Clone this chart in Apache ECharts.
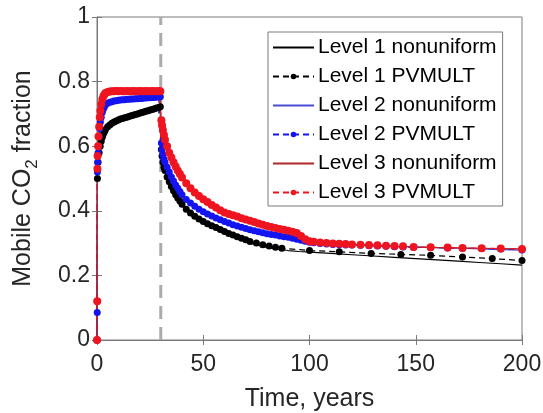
<!DOCTYPE html>
<html>
<head>
<meta charset="utf-8">
<script src="https://cdn.jsdelivr.net/npm/echarts@6/dist/echarts.min.js"></script>
<style>
html,body{margin:0;padding:0;background:#fff;}
#chart{width:543px;height:413px;}
</style>
</head>
<body>
<div id="chart"></div>
<script>
// ---- data ----
const seriesNames = ['Level 1 nonuniform','Level 1 PVMULT','Level 2 nonuniform','Level 2 PVMULT','Level 3 nonuniform','Level 3 PVMULT'];
const xTicks = [0, 50, 100, 150, 200];
const yTicks = [0, 0.2, 0.4, 0.6, 0.8, 1];
const injectionEnd = [30];

// time (years) of the solid "nonuniform" curves
const tLine = [0, 0.2, 0.5, 1, 2, 3, 4, 5, 7, 10, 15, 20, 25, 29.8, 30, 30.5, 31, 32, 34, 36, 38, 40, 44, 48, 52, 56, 60, 65, 70, 75, 80, 85, 90, 95, 100, 110, 120, 130, 140, 150, 160, 170, 180, 190, 200];
const level1Nonuniform = [0, 0.5, 0.55, 0.58, 0.615, 0.638, 0.652, 0.66, 0.671, 0.681, 0.692, 0.702, 0.712, 0.722, 0.6, 0.565, 0.545, 0.52, 0.485, 0.457, 0.435, 0.415, 0.388, 0.368, 0.354, 0.342, 0.33, 0.316, 0.304, 0.294, 0.287, 0.281, 0.277, 0.274, 0.272, 0.268, 0.264, 0.26, 0.256, 0.252, 0.248, 0.244, 0.24, 0.236, 0.232];
const level2Nonuniform = [0, 0.52, 0.58, 0.63, 0.69, 0.715, 0.728, 0.733, 0.738, 0.742, 0.745, 0.748, 0.75, 0.753, 0.63, 0.59, 0.575, 0.55, 0.52, 0.492, 0.47, 0.45, 0.424, 0.405, 0.39, 0.378, 0.367, 0.355, 0.345, 0.336, 0.329, 0.323, 0.318, 0.311, 0.303, 0.296, 0.294, 0.292, 0.29, 0.288, 0.286, 0.284, 0.282, 0.28, 0.278];
const level3Nonuniform = [0, 0.53, 0.6, 0.66, 0.73, 0.755, 0.765, 0.768, 0.77, 0.77, 0.77, 0.77, 0.77, 0.77, 0.7, 0.668, 0.65, 0.62, 0.58, 0.55, 0.525, 0.503, 0.47, 0.446, 0.427, 0.41, 0.395, 0.382, 0.373, 0.365, 0.353, 0.344, 0.338, 0.328, 0.306, 0.3, 0.296, 0.293, 0.29, 0.288, 0.286, 0.285, 0.284, 0.283, 0.282];

// time (years) of the Level 1 PVMULT markers
const tPV1 = [0, 0.2, 0.5, 1, 1.5, 2, 2.5, 3, 3.5, 4,
  5, 6, 7, 8, 9, 10, 11, 12, 13, 14, 15, 16, 17, 18, 19, 20, 21, 22, 23, 24, 25, 26, 27, 28, 29,
  29.8, 30.3, 30.6, 31, 31.5, 32, 33, 34, 35, 36, 37, 38, 39, 40,
  42, 44, 46, 48, 50, 52, 54, 56, 58, 60, 62, 64, 66, 68, 70, 72,
  75, 78, 81, 84, 87, 100, 114, 129, 143, 157, 172, 186, 200];
const level1PVMULT = [0, 0.5, 0.55, 0.58, 0.6, 0.615, 0.628, 0.638, 0.645, 0.652,
  0.66, 0.666, 0.671, 0.675, 0.678, 0.681, 0.684, 0.686, 0.688, 0.69, 0.692, 0.694, 0.696, 0.698, 0.7, 0.702, 0.704, 0.706, 0.708, 0.71, 0.712, 0.714, 0.716, 0.718, 0.72,
  0.722, 0.59, 0.57, 0.55, 0.535, 0.525, 0.505, 0.49, 0.475, 0.462, 0.45, 0.44, 0.43, 0.42,
  0.405, 0.393, 0.383, 0.375, 0.367, 0.36, 0.354, 0.348, 0.342, 0.336, 0.33, 0.325, 0.32, 0.315, 0.31, 0.305,
  0.3, 0.295, 0.291, 0.287, 0.284, 0.277, 0.273, 0.268, 0.265, 0.262, 0.257, 0.252, 0.246];

// time (years) of the Level 2 / Level 3 PVMULT markers
const tPV = [0, 0.1, 0.2, 0.3, 0.5, 0.7, 1, 1.3, 1.6, 2, 2.5, 3, 3.5, 4,
  5, 6, 7, 8, 9, 10, 11, 12, 13, 14, 15, 16, 17, 18, 19, 20, 21, 22, 23, 24, 25, 26, 27, 28, 29,
  29.8, 30.3, 30.6, 31, 31.5, 32, 33, 34, 35, 36, 37, 38, 39, 40,
  42, 44, 46, 48, 50, 52, 54, 56, 58, 60, 62, 64, 66, 68, 70, 72, 74, 76, 78, 80, 82, 84, 86, 88, 90, 92, 94, 96, 98, 100,
  102, 105, 108, 111, 114, 117, 120, 124, 128, 132, 136, 140, 144,
  149, 157, 165, 172, 181, 190, 200];
const level2PVMULT = [0, 0.085, 0.52, 0.55, 0.58, 0.6, 0.63, 0.655, 0.675, 0.69, 0.705, 0.715, 0.722, 0.728,
  0.733, 0.736, 0.738, 0.74, 0.741, 0.742, 0.743, 0.744, 0.744, 0.745, 0.745, 0.746, 0.746, 0.747, 0.747, 0.748, 0.748, 0.749, 0.749, 0.75, 0.75, 0.751, 0.751, 0.752, 0.752,
  0.753, 0.61, 0.59, 0.575, 0.56, 0.55, 0.535, 0.52, 0.505, 0.492, 0.48, 0.47, 0.46, 0.45,
  0.435, 0.424, 0.414, 0.405, 0.397, 0.39, 0.384, 0.378, 0.372, 0.367, 0.362, 0.357, 0.353, 0.349, 0.345, 0.341, 0.338, 0.335, 0.332, 0.329, 0.327, 0.325, 0.322, 0.32, 0.318, 0.315, 0.312, 0.309, 0.306, 0.303,
  0.301, 0.299, 0.297, 0.296, 0.295, 0.294, 0.294, 0.293, 0.292, 0.291, 0.29, 0.289, 0.288,
  0.287, 0.286, 0.285, 0.284, 0.283, 0.282, 0.279];
const level3PVMULT = [0, 0.12, 0.53, 0.57, 0.6, 0.63, 0.66, 0.69, 0.71, 0.73, 0.745, 0.755, 0.76, 0.765,
  0.768, 0.769, 0.77, 0.77, 0.771, 0.77, 0.771, 0.77, 0.77, 0.771, 0.77, 0.77, 0.771, 0.77, 0.77, 0.771, 0.77, 0.77, 0.771, 0.77, 0.77, 0.771, 0.77, 0.77, 0.771,
  0.77, 0.68, 0.665, 0.65, 0.635, 0.62, 0.6, 0.58, 0.565, 0.55, 0.537, 0.525, 0.514, 0.503,
  0.485, 0.47, 0.457, 0.446, 0.436, 0.427, 0.418, 0.41, 0.402, 0.395, 0.39, 0.386, 0.382, 0.377, 0.373, 0.369, 0.365, 0.361, 0.357, 0.353, 0.35, 0.347, 0.344, 0.341, 0.338, 0.335, 0.331, 0.322, 0.312, 0.306,
  0.304, 0.302, 0.3, 0.299, 0.298, 0.297, 0.296, 0.295, 0.294, 0.293, 0.292, 0.291, 0.29,
  0.288, 0.287, 0.286, 0.285, 0.284, 0.283, 0.282];

// ---- chart ----
const pairs = (t, v) => t.map((x, i) => [x, v[i]]);
const FONT = 'Liberation Sans, Arial, sans-serif';
const AXIS_COLOR = '#7a7a7a';
const TEXT_COLOR = '#262626';

const chart = echarts.init(document.getElementById('chart'), null, {renderer: 'canvas'});

function solid(name, t, v, color) {
  return {
    name, type: 'line', data: pairs(t, v), symbol: 'none', showSymbol: false,
    lineStyle: {color, width: 1.2}, itemStyle: {color}, animation: false, z: 3
  };
}
function marked(name, t, v, color, size) {
  return {
    name, type: 'line', data: pairs(t, v), symbol: 'circle', symbolSize: size,
    showSymbol: true, showAllSymbol: true,
    lineStyle: {color, width: 1.2, type: [6, 4]}, itemStyle: {color}, animation: false, z: 3
  };
}

const option = {
  backgroundColor: '#ffffff',
  animation: false,
  grid: {left: 97, right: 21, top: 17, bottom: 73, show: true, borderColor: AXIS_COLOR, borderWidth: 1,
         containLabel: false, outerBoundsMode: 'none'},
  legend: {
    data: seriesNames.map((n, i) => (i % 2 === 0 ? {name: n, itemStyle: {opacity: 0}} : {name: n})),
    orient: 'vertical',
    left: 268, top: 32,
    padding: [5, 6, 3, 4],
    itemWidth: 41, itemHeight: 7, itemGap: 8,
    backgroundColor: '#fff',
    borderColor: AXIS_COLOR, borderWidth: 1,
    textStyle: {fontFamily: FONT, fontSize: 21, color: '#000', padding: [0, 0, 0, -1]},
    selectedMode: false
  },
  xAxis: [{
    type: 'value', min: xTicks[0], max: xTicks[xTicks.length - 1], interval: xTicks[1] - xTicks[0],
    name: 'Time, years', nameLocation: 'middle', nameGap: 47,
    nameTextStyle: {fontFamily: FONT, fontSize: 25, color: TEXT_COLOR},
    axisLine: {show: true, lineStyle: {color: AXIS_COLOR}},
    axisTick: {show: true, inside: true, length: 5, lineStyle: {color: AXIS_COLOR}},
    axisLabel: {fontFamily: FONT, fontSize: 23, color: TEXT_COLOR, margin: 13},
    splitLine: {show: false}
  }, {
    type: 'value', position: 'top', min: xTicks[0], max: xTicks[xTicks.length - 1], interval: xTicks[1] - xTicks[0],
    axisLine: {show: true, lineStyle: {color: AXIS_COLOR}},
    axisTick: {show: true, inside: true, length: 5, lineStyle: {color: AXIS_COLOR}},
    axisLabel: {show: false}, splitLine: {show: false}
  }],
  yAxis: [{
    type: 'value', min: yTicks[0], max: yTicks[yTicks.length - 1], interval: yTicks[1] - yTicks[0],
    name: '{a|Mobile CO}{s|2}{a| fraction}', nameLocation: 'middle', nameGap: 56,
    nameTextStyle: {
      fontFamily: FONT, color: TEXT_COLOR,
      rich: {
        a: {fontFamily: FONT, fontSize: 25, color: TEXT_COLOR, lineHeight: 36, verticalAlign: 'middle'},
        s: {fontFamily: FONT, fontSize: 17, color: TEXT_COLOR, lineHeight: 36, verticalAlign: 'bottom'}
      }
    },
    axisLine: {show: true, lineStyle: {color: AXIS_COLOR}},
    axisTick: {show: true, inside: true, length: 5, lineStyle: {color: AXIS_COLOR}},
    axisLabel: {fontFamily: FONT, fontSize: 23, color: TEXT_COLOR, margin: 7},
    splitLine: {show: false}
  }, {
    type: 'value', position: 'right', min: yTicks[0], max: yTicks[yTicks.length - 1], interval: yTicks[1] - yTicks[0],
    axisLine: {show: true, lineStyle: {color: AXIS_COLOR}},
    axisTick: {show: true, inside: true, length: 5, lineStyle: {color: AXIS_COLOR}},
    axisLabel: {show: false}, splitLine: {show: false}
  }],
  series: [
    {
      name: 'injection end', type: 'line', symbol: 'none', silent: true, z: 2,
      data: [[injectionEnd[0], yTicks[0]], [injectionEnd[0], yTicks[yTicks.length - 1]]],
      lineStyle: {color: '#ababab', width: 3, type: [13, 8]}, animation: false
    },
    solid(seriesNames[0], tLine, level1Nonuniform, '#000000'),
    marked(seriesNames[1], tPV1, level1PVMULT, '#000000', 7),
    solid(seriesNames[2], tLine, level2Nonuniform, '#4b4bd8'),
    marked(seriesNames[3], tPV, level2PVMULT, '#1414f0', 7),
    solid(seriesNames[4], tLine, level3Nonuniform, '#b02828'),
    marked(seriesNames[5], tPV, level3PVMULT, '#ee1420', 8)
  ]
};
chart.setOption(option);
</script>
</body>
</html>
